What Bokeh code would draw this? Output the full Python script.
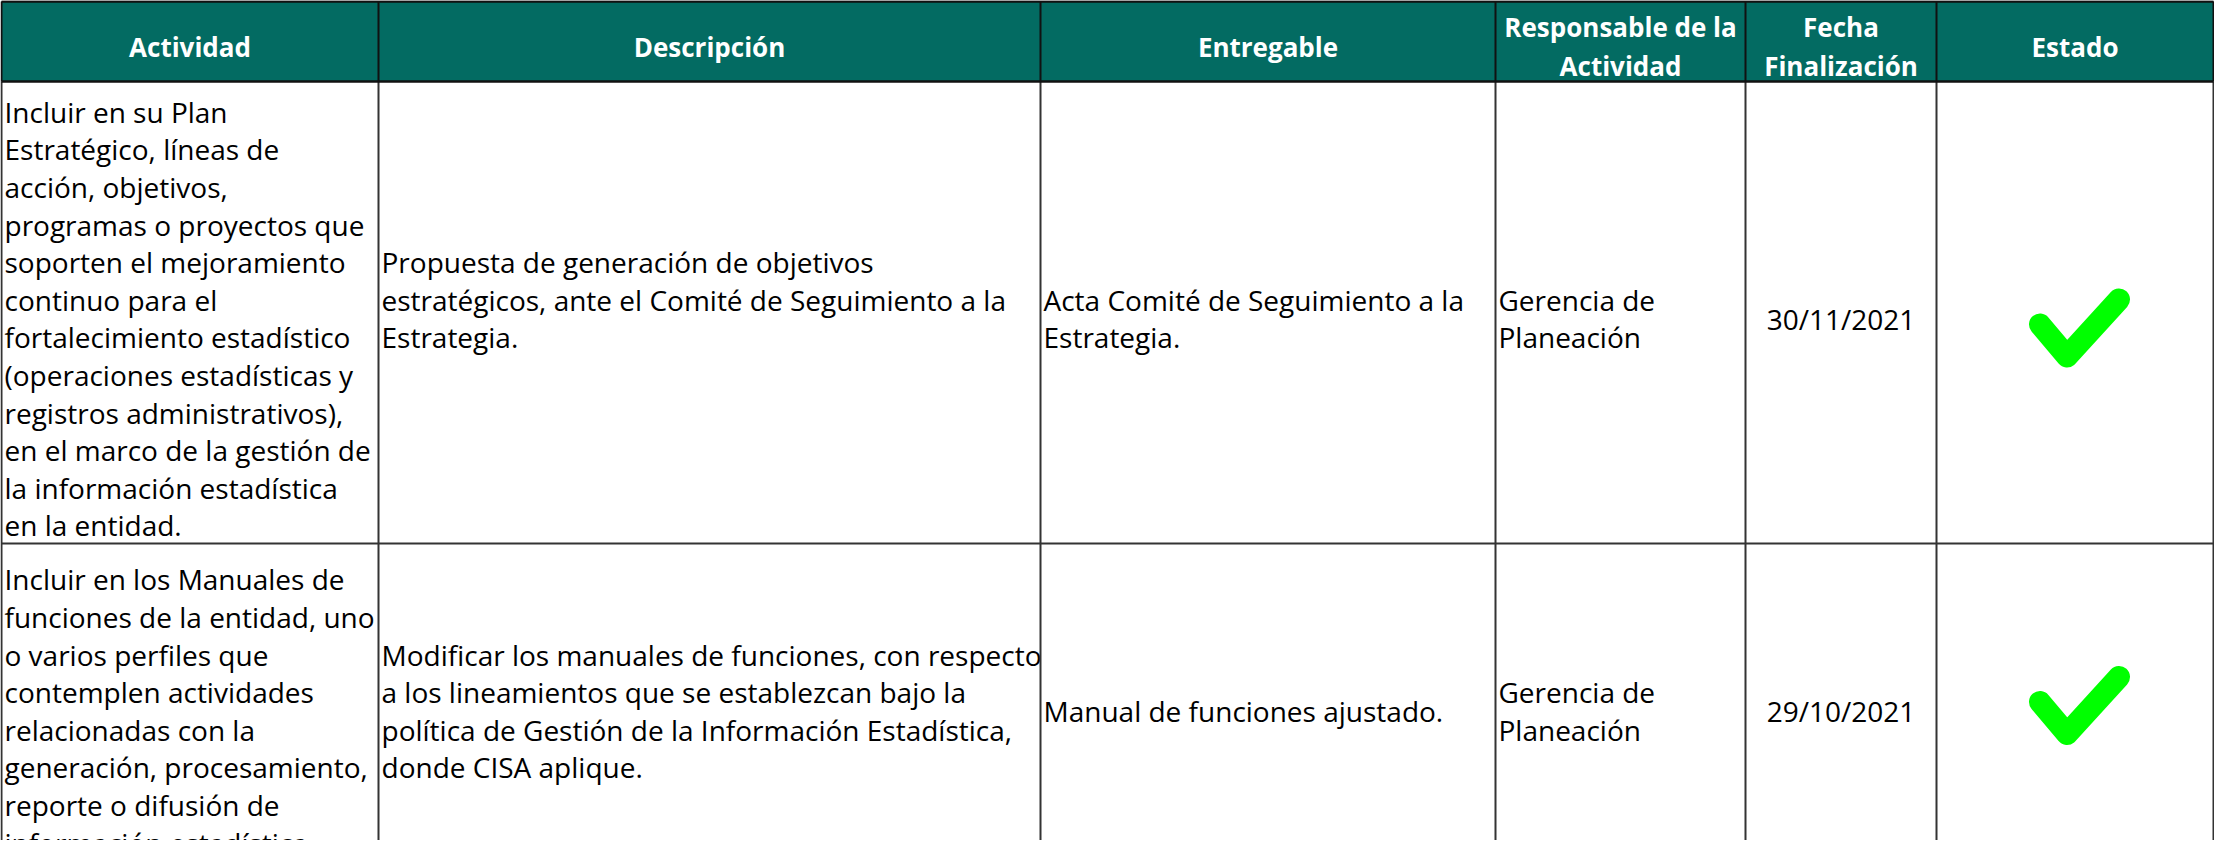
from bokeh.plotting import figure
from bokeh.models import ColumnDataSource, Range1d
from bokeh.core.properties import value
from bokeh.embed import file_html
from bokeh.resources import INLINE

# ---------------- data ----------------
HEADERS = [["Actividad"], ["Descripción"], ["Entregable"],
           ["Responsable de la", "Actividad"], ["Fecha", "Finalización"], ["Estado"]]

ACTIVIDAD = [
    ["Incluir en su Plan", "Estratégico, líneas de", "acción, objetivos,",
     "programas o proyectos que", "soporten el mejoramiento", "continuo para el",
     "fortalecimiento estadístico", "(operaciones estadísticas y",
     "registros administrativos),", "en el marco de la gestión de",
     "la información estadística", "en la entidad."],
    ["Incluir en los Manuales de", "funciones de la entidad, uno", "o varios perfiles que",
     "contemplen actividades", "relacionadas con la", "generación, procesamiento,",
     "reporte o difusión de", "información estadística."],
]
DESCRIPCION = [
    ["Propuesta de generación de objetivos",
     "estratégicos, ante el Comité de Seguimiento a la", "Estrategia.", ""],
    ["Modificar los manuales de funciones, con respecto",
     "a los lineamientos que se establezcan bajo la",
     "política de Gestión de la Información Estadística,", "donde CISA aplique."],
]
ENTREGABLE = [["Acta Comité de Seguimiento a la", "Estrategia."],
              ["Manual de funciones ajustado."]]
RESPONSABLE = [["Gerencia de", "Planeación"], ["Gerencia de", "Planeación"]]
FECHA = [["30/11/2021"], ["29/10/2021"]]
ESTADO = [True, True]

# ---------------- layout / style ----------------
COL_EDGES = [9, 386, 1048, 1503, 1753, 1944, 2221]
ROW_EDGES = [9, 89, 551, 874]
BODY_LH = 37.6
HEAD_LH = 39.0
PAD = 3
BODY_DY = 6
HEAD_DY = 5
ALIGN = ["left", "left", "left", "left", "center", "center"]
HEAD_BG = "#036b62"
CHECK_GREEN = "#00ff00"
FONT = "Open Sans"
BODY_SIZE = "28px"
HEAD_SIZE = "26px"
CHECK_SHAPE_X = [-35, -8, 44]
CHECK_SHAPE_Y = [-3, 29, -28]
CHECK_NUDGE = [15, 0]

W, H = 2214, 840
p = figure(width=W, height=H, x_range=Range1d(8, 8 + W), y_range=Range1d(8 + H, 8),
           toolbar_location=None, output_backend="svg", min_border=0,
           x_axis_location=None, y_axis_location=None)
p.grid.visible = False
p.outline_line_color = None
p.background_fill_color = "white"
p.border_fill_color = "white"

# header band
p.quad(left=[COL_EDGES[0]], right=[COL_EDGES[-1]], top=[ROW_EDGES[0]], bottom=[ROW_EDGES[1]],
       fill_color=HEAD_BG, line_color=None)


def cell_lines(lines, col, r0, r1, lh, dy):
    cx0, cx1 = COL_EDGES[col], COL_EDGES[col + 1]
    cy = (r0 + r1) / 2 + dy
    n = len(lines)
    xs, ys, ts = [], [], []
    for i, t in enumerate(lines):
        xs.append(cx0 + PAD if ALIGN[col] == "left" else (cx0 + cx1) / 2)
        ys.append(cy + (i - (n - 1) / 2) * lh)
        ts.append(t)
    return xs, ys, ts


# header texts
hx, hy, ht = [], [], []
for c, lines in enumerate(HEADERS):
    cx = (COL_EDGES[c] + COL_EDGES[c + 1]) / 2
    cy = (ROW_EDGES[0] + ROW_EDGES[1]) / 2 + HEAD_DY
    n = len(lines)
    for i, t in enumerate(lines):
        hx.append(cx)
        hy.append(cy + (i - (n - 1) / 2) * HEAD_LH)
        ht.append(t)
p.text(x="x", y="y", text="t", source=ColumnDataSource(dict(x=hx, y=hy, t=ht)),
       text_align="center", text_baseline="middle", text_color="white",
       text_font=value(FONT), text_font_size=HEAD_SIZE, text_font_style="bold")

# body texts
left = dict(x=[], y=[], t=[])
center = dict(x=[], y=[], t=[])
columns = [ACTIVIDAD, DESCRIPCION, ENTREGABLE, RESPONSABLE, FECHA]
for r in range(2):
    r0, r1 = ROW_EDGES[r + 1], ROW_EDGES[r + 2]
    for c, col in enumerate(columns):
        xs, ys, ts = cell_lines(col[r], c, r0, r1, BODY_LH, BODY_DY)
        target = left if ALIGN[c] == "left" else center
        target["x"] += xs
        target["y"] += ys
        target["t"] += ts
p.text(x="x", y="y", text="t", source=ColumnDataSource(left),
       text_align="left", text_baseline="middle", text_color="black",
       text_font=value(FONT), text_font_size=BODY_SIZE)
p.text(x="x", y="y", text="t", source=ColumnDataSource(center),
       text_align="center", text_baseline="middle", text_color="black",
       text_font=value(FONT), text_font_size=BODY_SIZE)

# check marks
cxs, cys = [], []
for r, ok in enumerate(ESTADO):
    if not ok:
        continue
    cx = (COL_EDGES[5] + COL_EDGES[6]) / 2
    cy = (ROW_EDGES[r + 1] + ROW_EDGES[r + 2]) / 2 + CHECK_NUDGE[r]
    cxs.append([cx + dx for dx in CHECK_SHAPE_X])
    cys.append([cy + dy for dy in CHECK_SHAPE_Y])
p.multi_line(xs=cxs, ys=cys, line_color=CHECK_GREEN, line_width=22,
             line_cap="round", line_join="round")

# grid lines: body
p.segment(x0=COL_EDGES, y0=[ROW_EDGES[1]] * len(COL_EDGES),
          x1=COL_EDGES, y1=[ROW_EDGES[-1]] * len(COL_EDGES),
          line_color="#333333", line_width=2)
p.segment(x0=[COL_EDGES[0]] * 2, y0=ROW_EDGES[2:], x1=[COL_EDGES[-1]] * 2, y1=ROW_EDGES[2:],
          line_color="#333333", line_width=2)
# header borders
p.segment(x0=COL_EDGES, y0=[ROW_EDGES[0]] * len(COL_EDGES),
          x1=COL_EDGES, y1=[ROW_EDGES[1]] * len(COL_EDGES),
          line_color="#111111", line_width=2)
p.segment(x0=[COL_EDGES[0]] * 2, y0=ROW_EDGES[:2], x1=[COL_EDGES[-1]] * 2, y1=ROW_EDGES[:2],
          line_color="#111111", line_width=2.5)

open("out.html", "w").write(file_html(p, INLINE))
